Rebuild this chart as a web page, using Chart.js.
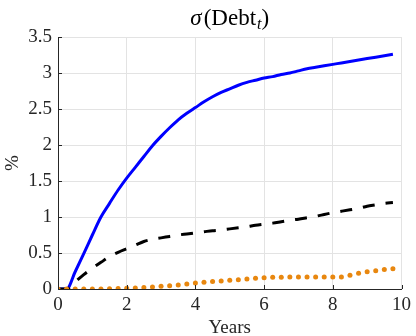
<!DOCTYPE html>
<html>
<head>
<meta charset="utf-8">
<script src="https://cdn.jsdelivr.net/npm/chart.js@4.4.0/dist/chart.umd.min.js"></script>
<style>
  html, body { margin: 0; padding: 0; background: #fff; }
  #wrap { width: 416px; height: 336px; position: relative; }
</style>
</head>
<body>
<div id="wrap"><canvas id="debtChart" width="416" height="336"></canvas></div>
<script>
// Horizonte trimestral (anos)
const years = [0, 0.25, 0.5, 0.75, 1, 1.25, 1.5, 1.75, 2, 2.25, 2.5, 2.75, 3, 3.25, 3.5, 3.75,
    4, 4.25, 4.5, 4.75, 5, 5.25, 5.5, 5.75, 6, 6.25, 6.5, 6.75, 7, 7.25, 7.5, 7.75,
    8, 8.25, 8.5, 8.75, 9, 9.25, 9.5, 9.75];

// Séries (%)
const blueSeries = [0, 0, 0.24, 0.49, 0.75, 1.0, 1.19, 1.375, 1.54, 1.69, 1.84, 1.99, 2.12, 2.24, 2.35, 2.44,
    2.52, 2.60, 2.67, 2.73, 2.78, 2.83, 2.87, 2.90, 2.93, 2.95, 2.98, 3.00, 3.03, 3.06, 3.08, 3.10,
    3.12, 3.14, 3.16, 3.18, 3.20, 3.22, 3.24, 3.26];
const blackSeries = [0, 0, 0.10, 0.20, 0.29, 0.37, 0.45, 0.51, 0.56, 0.61, 0.66, 0.69, 0.71, 0.73, 0.75, 0.765,
    0.78, 0.795, 0.81, 0.82, 0.835, 0.85, 0.865, 0.885, 0.90, 0.915, 0.935, 0.955, 0.97, 0.99, 1.01, 1.035,
    1.06, 1.08, 1.10, 1.12, 1.15, 1.17, 1.19, 1.20];
const orangeSeries = [0, 0, 0, 0, 0, 0, 0.003, 0.006, 0.01, 0.014, 0.02, 0.028, 0.037, 0.046, 0.056, 0.068,
    0.085, 0.095, 0.104, 0.111, 0.12, 0.13, 0.14, 0.15, 0.157, 0.162, 0.162, 0.167, 0.167, 0.167, 0.167, 0.167,
    0.167, 0.167, 0.19, 0.218, 0.24, 0.255, 0.27, 0.28];

// Ticks
const xTicks = [0, 2, 4, 6, 8, 10];
const yTicks = [0, 0.5, 1, 1.5, 2, 2.5, 3, 3.5];

const colors = {
    blue: '#0000ff',
    black: '#000000',
    orange: '#e8870f',
    axis: '#262626',
    grid: '#e3e3e3'
};
const serif = "'Liberation Serif', 'Times New Roman', serif";

const toPoints = (ys) => ys.map((y, i) => ({ x: years[i], y }));

// Título com subscrito + marcas internas dos eixos
const decorations = {
    id: 'decorations',
    afterDraw(chart) {
        const c = chart.ctx;
        const area = chart.chartArea;
        const xs = chart.scales.x, ys = chart.scales.y;

        c.save();
        c.strokeStyle = colors.axis;
        c.lineWidth = 1;
        xTicks.forEach(v => {
            const px = Math.round(xs.getPixelForValue(v)) + 0.5;
            c.beginPath(); c.moveTo(px, area.bottom); c.lineTo(px, area.bottom - 4); c.stroke();
        });
        yTicks.forEach(v => {
            const py = Math.round(ys.getPixelForValue(v)) + 0.5;
            c.beginPath(); c.moveTo(area.left, py); c.lineTo(area.left + 4, py); c.stroke();
        });

        // σ(Debt_t)
        const base = 25;
        const partA = 'σ', partB = '(Debt', partC = 't', partD = ')';
        c.fillStyle = '#000';
        c.textBaseline = 'alphabetic';
        const fA = 'italic 23px ' + serif, fB = '23px ' + serif, fC = 'italic 16px ' + serif;
        c.font = fA; const wA = c.measureText(partA).width;
        c.font = fB; const wB = c.measureText(partB).width; const wD = c.measureText(partD).width;
        c.font = fC; const wC = c.measureText(partC).width;
        let x = (area.left + area.right) / 2 - (wA + wB + wC + wD + 3) / 2;
        c.textAlign = 'left';
        c.font = fA; c.fillText(partA, x, base); x += wA + 2;
        c.font = fB; c.fillText(partB, x, base); x += wB + 1;
        c.font = fC; c.fillText(partC, x, base + 4); x += wC;
        c.font = fB; c.fillText(partD, x, base);
        c.restore();
    }
};

new Chart(document.getElementById('debtChart'), {
    type: 'line',
    data: {
        datasets: [
            {
                label: 'blue',
                data: toPoints(blueSeries),
                borderColor: colors.blue,
                borderWidth: 3,
                pointRadius: 0,
                cubicInterpolationMode: 'monotone',
                order: 3
            },
            {
                label: 'black',
                data: toPoints(blackSeries),
                borderColor: colors.black,
                borderWidth: 3,
                borderDash: [12, 11],
                pointRadius: 0,
                cubicInterpolationMode: 'monotone',
                order: 2
            },
            {
                label: 'orange',
                data: toPoints(orangeSeries),
                showLine: false,
                pointRadius: 2.5,
                pointBackgroundColor: colors.orange,
                pointBorderWidth: 0,
                order: 1
            }
        ]
    },
    options: {
        responsive: false,
        animation: false,
        events: [],
        layout: { padding: { top: 37, right: 11, left: 0, bottom: 0 } },
        plugins: {
            legend: { display: false },
            tooltip: { enabled: false }
        },
        scales: {
            x: {
                type: 'linear',
                min: 0,
                max: 10,
                afterBuildTicks: (s) => { s.ticks = xTicks.map(v => ({ value: v })); },
                afterFit: (s) => { s.height = 47; },
                ticks: {
                    color: colors.axis,
                    padding: 5,
                    maxRotation: 0,
                    font: { family: serif, size: 19 }
                },
                grid: { color: colors.grid, drawTicks: false },
                border: { color: colors.axis, width: 1 },
                title: {
                    display: true,
                    text: 'Years',
                    color: colors.axis,
                    font: { family: serif, size: 19 },
                    padding: { top: 0, bottom: -3 }
                }
            },
            y: {
                min: 0,
                max: 3.5,
                afterBuildTicks: (s) => { s.ticks = yTicks.map(v => ({ value: v })); },
                afterFit: (s) => { s.width = 58; },
                ticks: {
                    color: colors.axis,
                    padding: 6,
                    font: { family: serif, size: 19 },
                    callback: (v) => String(v)
                },
                grid: { color: colors.grid, drawTicks: false },
                border: { color: colors.axis, width: 1 },
                title: {
                    display: true,
                    text: '%',
                    color: colors.axis,
                    font: { family: serif, size: 19 },
                    padding: { top: 2, bottom: 0 }
                }
            }
        }
    },
    plugins: [decorations]
});
</script>
</body>
</html>
